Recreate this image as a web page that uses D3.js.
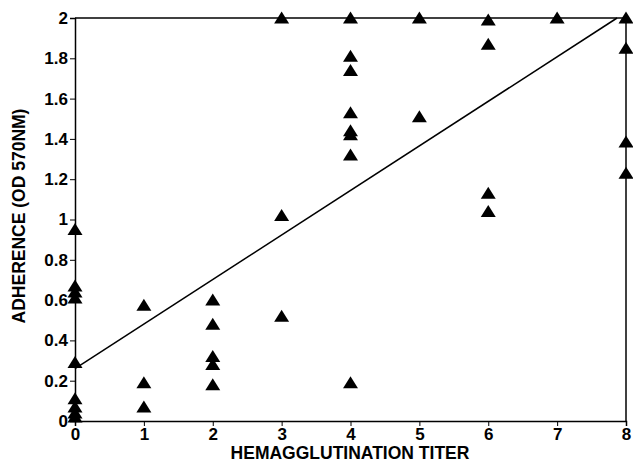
<!DOCTYPE html>
<html><head><meta charset="utf-8">
<script src="https://cdn.jsdelivr.net/npm/d3@7"></script>
<style>body{margin:0;background:#fff}svg{display:block}text{font-family:"Liberation Sans",Arial,sans-serif;fill:#000}</style>
</head><body><svg id="c" width="633" height="465"></svg>
<script>
const titerX = [0,0,0,0,0,0,0,0,0, 1,1,1, 2,2,2,2,2, 3,3,3, 4,4,4,4,4,4,4,4, 5,5, 6,6,6,6, 7, 8,8,8,8];
const adherenceY = [0.95,0.67,0.64,0.61,0.29,0.11,0.07,0.04,0.02, 0.575,0.19,0.07, 0.60,0.48,0.32,0.28,0.18, 2.0,1.02,0.52, 2.0,1.81,1.74,1.53,1.44,1.42,1.32,0.19, 2.0,1.51, 1.99,1.87,1.13,1.04, 2.0, 2.0,1.85,1.385,1.23];
const xTicks = [0,1,2,3,4,5,6,7,8];
const yTicks = [0,0.2,0.4,0.6,0.8,1,1.2,1.4,1.6,1.8,2];
const fitX = [0, 7.87];
const fitY = [0.26, 2.0];

const svg = d3.select("#c");
const x = d3.scaleLinear().domain([0,8]).range([75,626]);
const y = d3.scaleLinear().domain([0,2]).range([421,18]);

const fmt = d => String(d);
svg.append("g").attr("transform","translate(0,421)")
  .call(d3.axisBottom(x).tickValues(xTicks).tickFormat(fmt).tickSize(5).tickPadding(2))
  .call(g=>{g.select(".domain").attr("stroke","#000").attr("stroke-width",1.5);
    g.selectAll("text").attr("font-size",17).attr("font-weight","bold");});
svg.append("g").attr("transform","translate(75,0)")
  .call(d3.axisLeft(y).tickValues(yTicks).tickFormat(fmt).tickSize(5).tickPadding(2))
  .call(g=>{g.select(".domain").attr("stroke","#000").attr("stroke-width",1.5);
    g.selectAll("text").attr("font-size",17).attr("font-weight","bold");});
// frame top and right
svg.append("line").attr("x1",x(0)).attr("x2",x(8)).attr("y1",y(2)).attr("y2",y(2)).attr("stroke","#000").attr("stroke-width",1.5);
svg.append("line").attr("x1",x(8)).attr("x2",x(8)).attr("y1",y(2)).attr("y2",y(0)).attr("stroke","#000").attr("stroke-width",1.5);

// regression
svg.append("line").attr("x1",x(fitX[0])).attr("y1",y(fitY[0])).attr("x2",x(fitX[1])).attr("y2",y(fitY[1]))
  .attr("stroke","#000").attr("stroke-width",1.5);

// points
svg.append("g").selectAll("path").data(titerX.map((t,i)=>[t,adherenceY[i]])).join("path")
  .attr("d", "M0,-6.5L7.5,5.5L-7.5,5.5Z")
  .attr("transform", d=>`translate(${x(d[0])},${y(d[1])})`)
  .attr("fill","#000");

svg.append("text").attr("x",350).attr("y",459).attr("text-anchor","middle").attr("font-size",17.5).attr("font-weight","bold").text("HEMAGGLUTINATION TITER");
svg.append("text").attr("transform","translate(25,216) rotate(-90)").attr("text-anchor","middle").attr("font-size",17.5).attr("font-weight","bold").text("ADHERENCE (OD 570NM)");
</script></body></html>
